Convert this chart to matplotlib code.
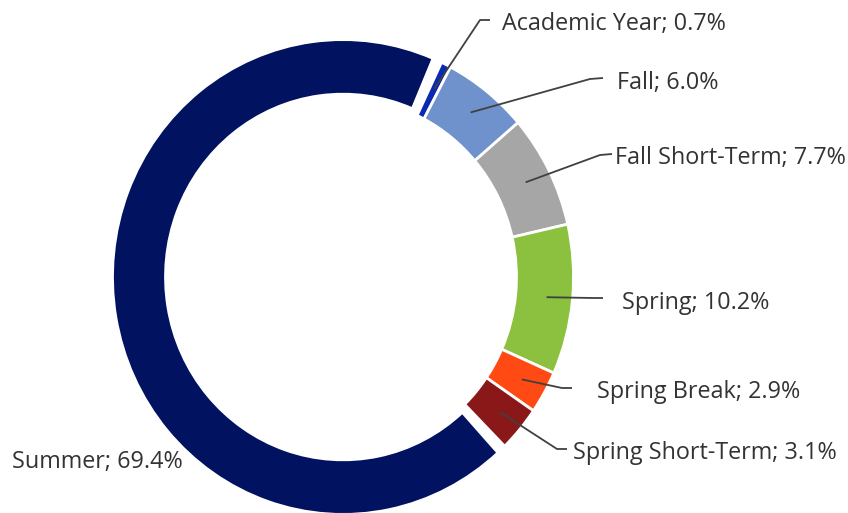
import numpy as np
import matplotlib
matplotlib.use("Agg")
import matplotlib.pyplot as plt

# ---- data ----
categories = ["Academic Year", "Fall", "Fall Short-Term", "Spring",
              "Spring Break", "Spring Short-Term", "Summer"]
values = [0.7, 6.0, 7.7, 10.2, 2.9, 3.1, 69.4]
colors = ["#0A2BB0", "#7092CC", "#A6A6A6", "#8BC13F",
          "#FF4A14", "#8A1818", "#001260"]

# ---- layout (pixels, y measured from top) ----
W, H = 848, 513
CX, CY = 343.0, 277.0
R = 230.5
K = 1.03                    # vertical stretch of the ring
RING = 57.0
SUMMER_RING = 53.0
FIRST_ANGLE = 25.3          # degrees clockwise from 12 o'clock
SUMMER_GAP = 2.3            # extra angular gap each side of summer (deg)

# label positions: (text_x, text_baseline_y, kink_x, kink_y, end_x, end_y)
label_pos = {
    "Academic Year":     (502, 30, 480, 20, 490, 20),
    "Fall":              (617, 89, 590, 79, 603, 78),
    "Fall Short-Term":   (615, 164, 600, 155, 612, 154),
    "Spring":            (622, 309, 593, 298, 603, 298),
    "Spring Break":      (597, 398, 562, 388, 572, 388),
    "Spring Short-Term": (573, 459, 557, 449, 567, 449),
    "Summer":            (12, 468, None, None, None, None),
}

plt.rcParams['font.family'] = ['Open Sans', 'DejaVu Sans']

fig = plt.figure(figsize=(W / 100, H / 100), dpi=100)
ax = fig.add_axes([0, 0, 1, 1])

def fy(y):
    return (H - y) / K

wedges, _ = ax.pie(values, colors=colors, startangle=90 - FIRST_ANGLE,
                   counterclock=False, radius=R, center=(CX, fy(CY)),
                   wedgeprops=dict(width=RING, edgecolor="white", linewidth=2.0))

# summer: narrower ring and extra gap at both ends
sw = wedges[-1]
sw.set_width(SUMMER_RING)
sw.set_theta1(sw.theta1 + SUMMER_GAP)
sw.set_theta2(sw.theta2 - SUMMER_GAP)

ax.set_aspect("auto")
ax.set_xlim(0, W)
ax.set_ylim(0, H / K)
ax.axis("off")

text_color = "#333333"
line_color = "#404040"
anchor_r = R - 26
for w, name, val in zip(wedges, categories, values):
    tx, ty, kx, ky, ex, ey = label_pos[name]
    ax.text(tx, fy(ty), f"{name}; {val:.1f}%", fontsize=16.8, color=text_color,
            ha="left", va="baseline")
    if kx is not None:
        mid = np.deg2rad((w.theta1 + w.theta2) / 2)
        ax0 = CX + anchor_r * np.cos(mid)
        ay0 = fy(CY) + anchor_r * np.sin(mid)
        ax.plot([ax0, kx, ex], [ay0, fy(ky), fy(ey)], color=line_color,
                lw=1.3, solid_capstyle="butt")

fig.savefig("out.png", dpi=100)
